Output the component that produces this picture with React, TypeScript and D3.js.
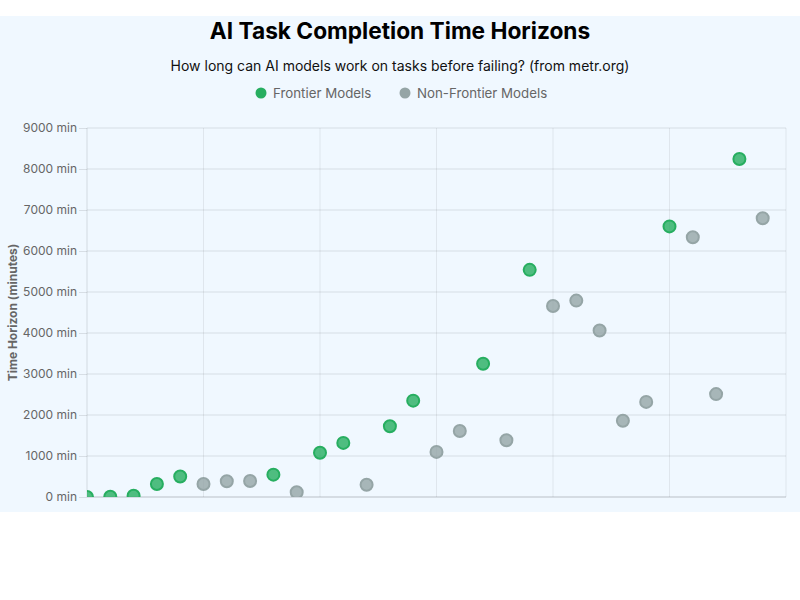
import React, { useEffect, useRef } from "react";
import * as d3 from "d3";

// model index along the x axis (one entry per model, in release order)
const modelIndex: number[] = d3.range(30);

// task completion horizon (minutes)
const horizons: number[] = [
  2, 5, 30, 317, 500, 317, 385, 390, 545, 115,
  1080, 1320, 300, 1725, 2350, 1100, 1610, 3250, 1385, 5540,
  4660, 4790, 4060, 1860, 2320, 6600, 6335, 2510, 8245, 6800,
];

// true = frontier model at release time
const frontier: boolean[] = [
  true, true, true, true, true, false, false, false, true, false,
  true, true, false, true, true, false, false, true, false, true,
  false, false, false, false, false, true, false, false, true, false,
];

const yTicks: number[] = [0, 1000, 2000, 3000, 4000, 5000, 6000, 7000, 8000, 9000];
const xGridTicks: number[] = [0, 5, 10, 15, 20, 25, 30];

const seriesNames = ["Frontier Models", "Non-Frontier Models"];
const seriesColors = ["#27ae60", "#95a5a6"];
const seriesFills = ["rgba(39,174,96,0.8)", "rgba(149,165,166,0.8)"];

const FONT = "Inter, 'Helvetica Neue', Helvetica, Arial, sans-serif";

const App: React.FC = () => {
  const ref = useRef<SVGSVGElement>(null);

  useEffect(() => {
    document.body.style.margin = "0";
    const width = 800;
    const height = 496;
    const margin = { top: 112, right: 14, left: 87 };
    const innerW = width - margin.left - margin.right;
    const innerH = 369;

    const svg = d3.select(ref.current);
    svg.selectChildren().remove();

    // title + subtitle
    svg
      .append("text")
      .attr("x", width / 2)
      .attr("y", 23)
      .attr("text-anchor", "middle")
      .attr("font-family", FONT)
      .attr("font-size", 22.7)
      .attr("font-weight", "bold")
      .attr("fill", "#000")
      .text("AI Task Completion Time Horizons");

    svg
      .append("text")
      .attr("x", width / 2)
      .attr("y", 55)
      .attr("text-anchor", "middle")
      .attr("font-family", FONT)
      .attr("font-size", 14)
      .attr("fill", "#111")
      .text("How long can AI models work on tasks before failing? (from metr.org)");

    // legend
    const legend = svg.append("g").attr("font-family", FONT).attr("font-size", 13.3);
    const legendX = [261, 405];
    seriesNames.forEach((name, i) => {
      legend
        .append("circle")
        .attr("cx", legendX[i])
        .attr("cy", 77)
        .attr("r", 5.5)
        .attr("fill", seriesColors[i]);
      legend
        .append("text")
        .attr("x", legendX[i] + 12)
        .attr("y", 77)
        .attr("dy", "0.35em")
        .attr("fill", "#666")
        .text(name);
    });

    const g = svg
      .append("g")
      .attr("transform", `translate(${margin.left},${margin.top})`);

    const x = d3.scaleLinear().domain([0, 30]).range([0, innerW]);
    const y = d3.scaleLinear().domain([0, 9000]).range([innerH, 0]);

    // grid
    g.append("g")
      .selectAll("line")
      .data(xGridTicks)
      .join("line")
      .attr("x1", (d) => x(d))
      .attr("x2", (d) => x(d))
      .attr("y1", 0)
      .attr("y2", innerH)
      .attr("stroke", (d) => (d === 0 ? "rgba(0,0,0,0.12)" : "rgba(0,0,0,0.07)"));

    g.append("g")
      .selectAll("line")
      .data(yTicks)
      .join("line")
      .attr("x1", 0)
      .attr("x2", innerW)
      .attr("y1", (d) => y(d))
      .attr("y2", (d) => y(d))
      .attr("stroke", (d) => (d === 0 ? "rgba(0,0,0,0.22)" : "rgba(0,0,0,0.1)"));

    // y axis
    const yAxis = g
      .append("g")
      .call(
        d3
          .axisLeft(y)
          .tickValues(yTicks)
          .tickSize(8)
          .tickPadding(2)
          .tickFormat((d) => `${d} min`)
      );
    yAxis.select(".domain").remove();
    yAxis.selectAll(".tick line").attr("stroke", "rgba(0,0,0,0.1)");
    yAxis
      .selectAll(".tick text")
      .attr("font-family", FONT)
      .attr("font-size", 12)
      .attr("fill", "#666");

    svg
      .append("text")
      .attr("transform", `translate(17,${margin.top + innerH / 2}) rotate(-90)`)
      .attr("text-anchor", "middle")
      .attr("font-family", FONT)
      .attr("font-size", 12)
      .attr("font-weight", "bold")
      .attr("fill", "#666")
      .text("Time Horizon (minutes)");

    // points, clipped to the plot area
    svg
      .append("clipPath")
      .attr("id", "plot-clip")
      .append("rect")
      .attr("x", 0)
      .attr("y", 0)
      .attr("width", innerW)
      .attr("height", innerH);

    const data = modelIndex.map((i) => ({
      i,
      v: horizons[i],
      s: frontier[i] ? 0 : 1,
    }));

    g.append("g")
      .attr("clip-path", "url(#plot-clip)")
      .selectAll("circle")
      .data(data)
      .join("circle")
      .attr("cx", (d) => x(d.i))
      .attr("cy", (d) => y(d.v))
      .attr("r", 6)
      .attr("fill", (d) => seriesFills[d.s])
      .attr("stroke", (d) => seriesColors[d.s])
      .attr("stroke-width", 2);
  }, []);

  return (
    <div
      style={{
        position: "absolute",
        left: 0,
        top: 16,
        width: 800,
        height: 496,
        background: "#f0f8ff",
        overflow: "hidden",
      }}
    >
      <svg ref={ref} width={800} height={496} style={{ display: "block" }} />
    </div>
  );
};

export default App;
